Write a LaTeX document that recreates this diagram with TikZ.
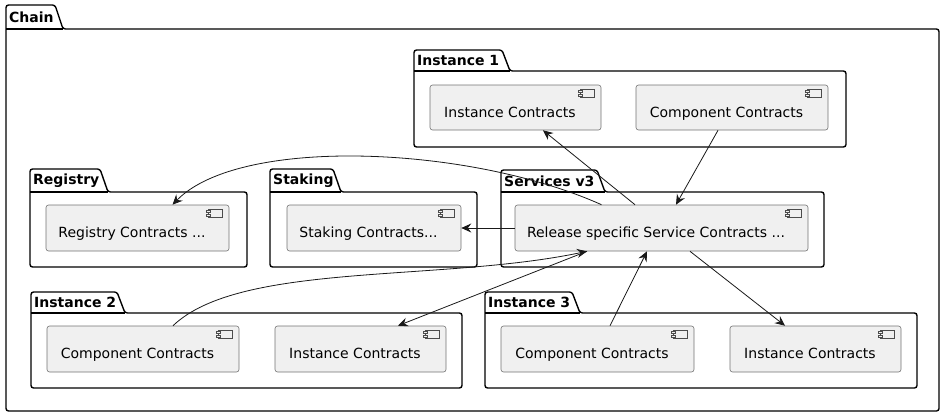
\documentclass[tikz,border=0pt]{standalone}
\usepackage{fontspec}
\setmainfont{DejaVu Sans}
\usetikzlibrary{arrows.meta}
\tikzset{
  pkg/.style={draw, line width=1.4pt, rounded corners=2.5pt},
  pkgtitle/.style={anchor=west, inner sep=0pt, font=\fontsize{14}{16}\selectfont\bfseries},
  comp/.style={draw=black!55, fill=black!6, line width=0.6pt, rounded corners=2.5pt,
               minimum height=46pt, inner sep=0pt, text height=22pt, text depth=2.5pt,
               font=\fontsize{14}{16}\selectfont, execute at end node={\hspace*{11pt}}},
  icon/.style={draw=black!70, line width=0.5pt, fill=black!6},
  arr/.style={-{Stealth[length=10pt,width=9pt,inset=3.5pt]}, line width=0.8pt, draw=black!90}
}
% name, x0, tab top, body top, x1, bottom, tab right, title
\newcommand{\pkgbox}[8]{%
  \draw[pkg] (#7,#4) -- ({#7-8},#3) -- (#2,#3) -- (#2,#6) -- (#5,#6) -- (#5,#4) -- cycle;
  \draw[line width=1.4pt] (#2,#4) -- (#7,#4);
  \node[pkgtitle] (#1) at ({#2+3},{(#3+#4)/2}) {#8};
}
\begin{document}
\begin{tikzpicture}[x=1pt, y=-1pt]
  \useasboundingbox (0,0) rectangle (946,418);

  \pkgbox{chainpkg}{6}{5}{29}{939}{411}{63}{Chain}
  \pkgbox{inst1pkg}{414}{50}{71}{846}{147}{510}{Instance 1}
  \pkgbox{regpkg}{30}{169}{192}{247}{267}{108}{Registry}
  \pkgbox{stakpkg}{270}{169}{192}{477}{267}{341}{Staking}
  \pkgbox{svcpkg}{501}{170}{192}{824}{267}{605}{Services v3}
  \pkgbox{inst2pkg}{31}{292}{313}{462}{388}{125}{Instance 2}
  \pkgbox{inst3pkg}{485}{292}{313}{917}{388}{580}{Instance 3}

  \node[comp, minimum width=171pt, minimum height=45pt] (i1inst) at (515.5,107.5) {Instance Contracts};
  \node[comp, minimum width=192pt, minimum height=45pt] (i1comp) at (732,107.5) {Component Contracts};
  \node[comp, minimum width=183pt] (reg) at (137.5,228) {Registry Contracts ...};
  \node[comp, minimum width=174pt] (stak) at (374,228) {Staking Contracts...};
  \node[comp, minimum width=293pt] (svc) at (661.5,228) {Release specific Service Contracts ...};
  \node[comp, minimum width=192pt] (i2comp) at (143,349) {Component Contracts};
  \node[comp, minimum width=171pt] (i2inst) at (360.5,349) {Instance Contracts};
  \node[comp, minimum width=193pt] (i3comp) at (597.5,349) {Component Contracts};
  \node[comp, minimum width=171pt] (i3inst) at (815.5,349) {Instance Contracts};

  \foreach \c in {i1inst,i1comp,reg,stak,svc,i2comp,i2inst,i3comp,i3inst}{
    \draw[icon] ([shift={(-21,4.5)}]\c.north east) rectangle ([shift={(-7,12.5)}]\c.north east);
    \draw[icon] ([shift={(-23.5,6)}]\c.north east) rectangle ++(4,2);
    \draw[icon] ([shift={(-23.5,9.5)}]\c.north east) rectangle ++(4,2);
  }

  \draw[arr] ([xshift=-26.5pt]svc.north) -- ([xshift=27.5pt]i1inst.south);
  \draw[arr] ([xshift=-14pt]i1comp.south) -- ([xshift=14.5pt]svc.north);
  \draw[arr] ([xshift=-60pt]svc.north) .. controls +(-131.5,-59) and +(67.5,-69) .. ([xshift=35pt]reg.north);
  \draw[arr] (svc.west) -- (stak.east);
  \draw[arr] ([xshift=30pt]i2comp.north) .. controls +(67,-64) and +(-147,31) .. ([xshift=-74.5pt]svc.south);
  \draw[arr] ([xshift=-74.5pt]svc.south) -- ([xshift=37.5pt]i2inst.north);
  \draw[arr] ([xshift=12.5pt]i3comp.north) -- ([xshift=-14.5pt]svc.south);
  \draw[arr] ([xshift=28.5pt]svc.south) -- ([xshift=-30.5pt]i3inst.north);
\end{tikzpicture}
\end{document}
